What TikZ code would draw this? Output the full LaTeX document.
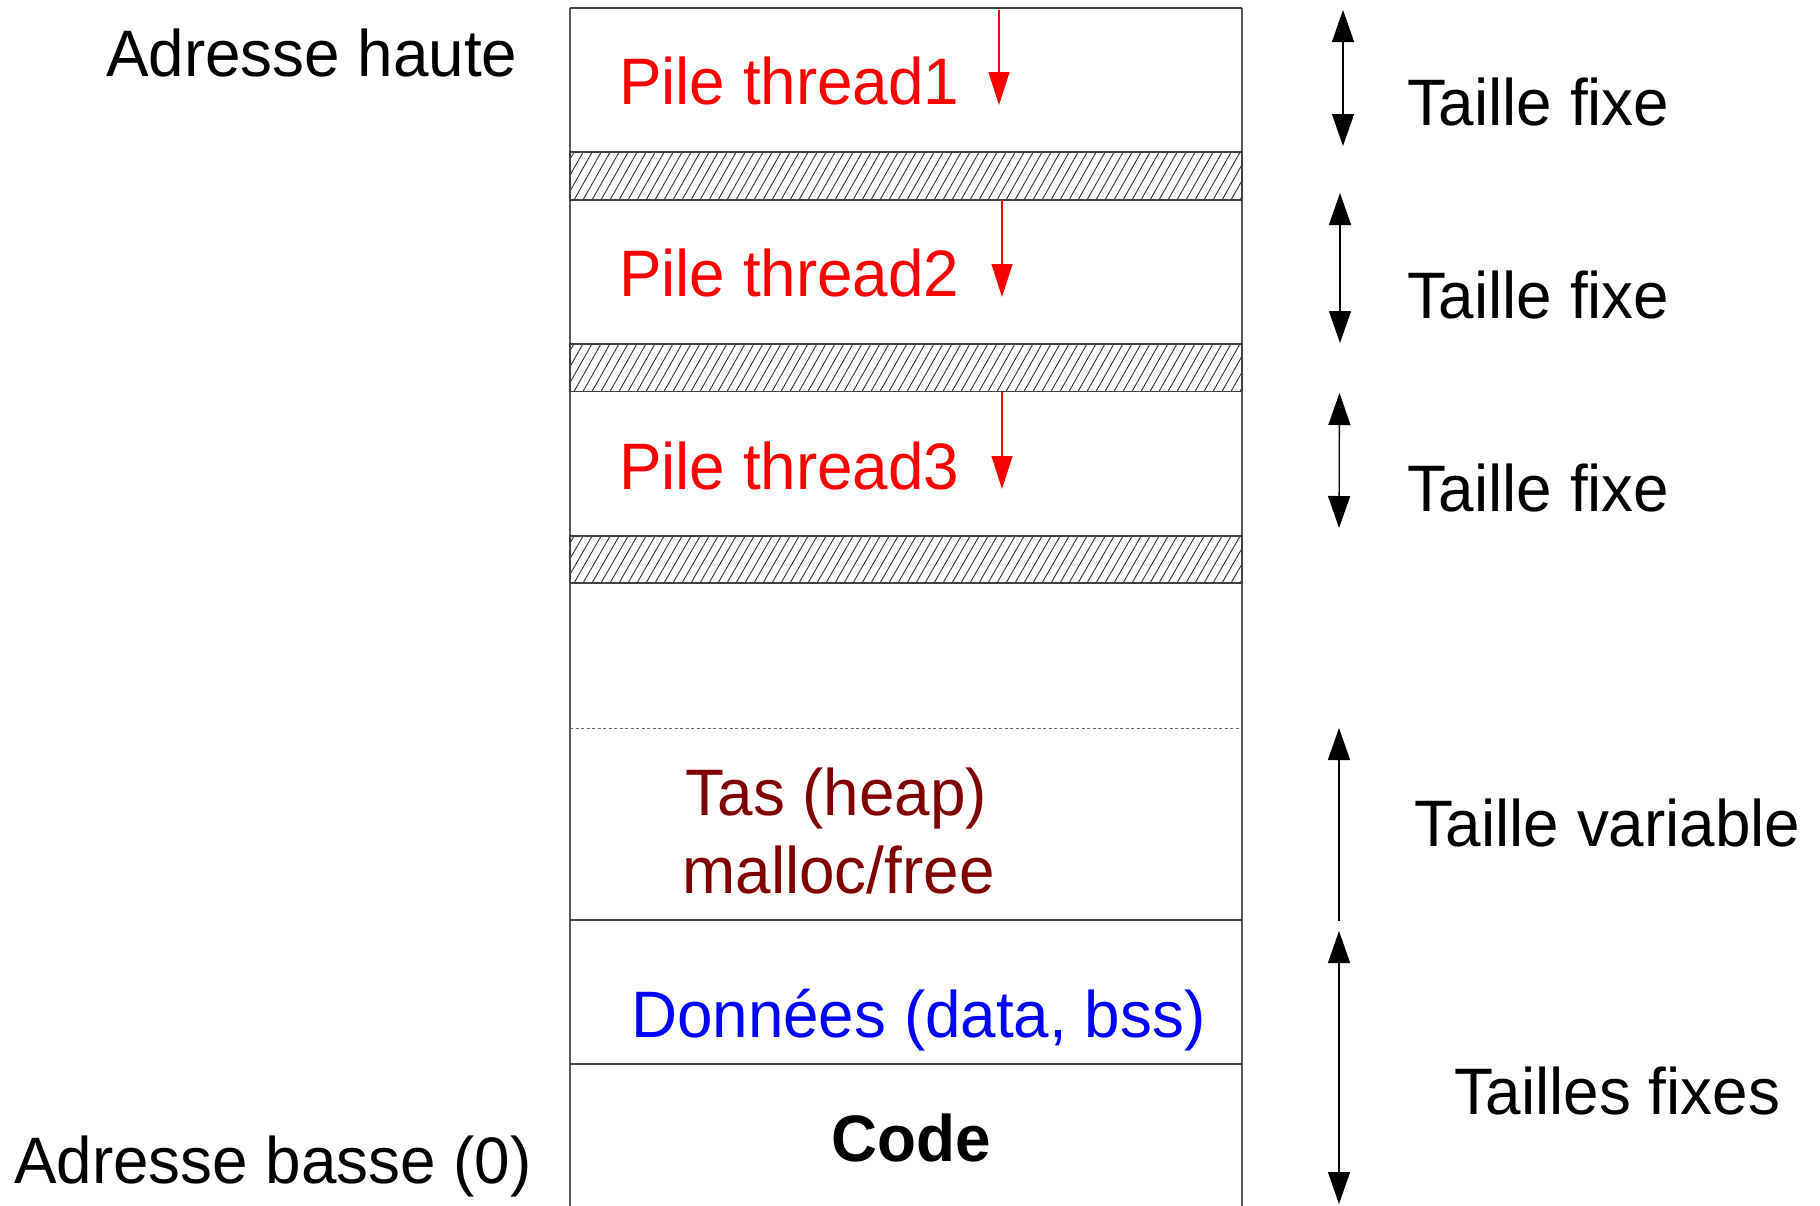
\documentclass[tikz,border=0pt]{standalone}
\usepackage{fontspec}
\setmainfont{Liberation Sans}
\usepackage{graphicx}
\usetikzlibrary{arrows.meta}
\definecolor{heapred}{RGB}{128,0,0}
\definecolor{datablue}{RGB}{0,0,255}
\definecolor{stackred}{RGB}{255,0,0}
\newcommand\vstretch[1]{\scalebox{1}[1.03]{#1}}
\begin{document}
\begin{tikzpicture}[x=1pt,y=-1pt,
  lbl/.style={inner sep=0pt, outer sep=0pt, anchor=base west, font=\fontsize{63.8}{70}\selectfont},
  clbl/.style={lbl, anchor=base},
  sepline/.style={line width=1.8pt, draw=black!75},
  sideline/.style={line width=1.2pt, draw=black!65},
  hatchline/.style={line width=0.9pt, draw=black!80},
  sizearrow/.style={line width=1.3pt, {Triangle[length=32pt,width=22pt]}-{Triangle[length=32pt,width=22pt]}},
  uparrow/.style={line width=1.3pt, -{Triangle[length=32pt,width=22pt]}},
  growarrow/.style={line width=1.1pt, draw=stackred, -{Triangle[length=33pt,width=21pt]}, stackred}]
\useasboundingbox (0,0) rectangle (1820,1205);
\fill[white] (0,0) rectangle (1820,1205);

% box sides
\coordinate (tl) at (570,8);
\coordinate (tr) at (1242,8);
\coordinate (bl) at (570,1210);
\coordinate (br) at (1242,1210);
\draw[sideline] (tl) -- (bl);
\draw[sideline] (tr) -- (br);
\draw[sepline] (tl) -- (tr);

% hatched guard bands
\foreach \t/\b in {152.3/200, 343.8/391.5, 536.2/583} {
  \begin{scope}
    \clip (570,\t) rectangle (1242,\b);
    \foreach \x in {520,529,...,1250} {
      \draw[hatchline] (\x,\b) -- ++(27,\t-\b);
    }
  \end{scope}
  \draw[sepline] (570,\t) rectangle (1242,\b);
}

% heap limit and other separators
\draw[line width=1pt, draw=black!60, dash pattern=on 3pt off 2.5pt] (570,728) -- (1242,728);
\draw[sepline] (570,920) -- (1242,920);
\draw[sepline] (570,1064) -- (1242,1064);

% left labels
\node[lbl] (haute) at (106,76) {\vstretch{Adresse haute}};
\node[lbl] (basse) at (14,1183) {\vstretch{Adresse basse (0)}};

% stacks
\node[lbl, text=stackred] (pile1) at (619,104) {\vstretch{Pile thread1}};
\node[lbl, text=stackred] (pile2) at (619,296.5) {\vstretch{Pile thread2}};
\node[lbl, text=stackred] (pile3) at (619,489) {\vstretch{Pile thread3}};

\coordinate (g1s) at (999,10);   \coordinate (g1e) at (999,105);
\coordinate (g2s) at (1002,200); \coordinate (g2e) at (1002,297);
\coordinate (g3s) at (1002,391.5); \coordinate (g3e) at (1002,489);
\draw[growarrow] (g1s) -- (g1e);
\draw[growarrow] (g2s) -- (g2e);
\draw[growarrow] (g3s) -- (g3e);

% heap, data, code
\node[clbl, text=heapred] (tas) at (836.5,815) {\vstretch{Tas (heap)}};
\node[clbl, text=heapred] (malloc) at (838.5,893) {\vstretch{malloc/free}};
\node[lbl, text=datablue] (donnees) at (631,1037) {\vstretch{Données (data, bss)}};
\node[clbl, font=\fontsize{63.8}{70}\selectfont\bfseries] (code) at (911,1161) {\vstretch{Code}};

% size arrows
\coordinate (a1t) at (1343,10);  \coordinate (a1b) at (1343,146);
\coordinate (a2t) at (1340,193); \coordinate (a2b) at (1340,343);
\coordinate (a3t) at (1339.5,393); \coordinate (a3b) at (1339,528);
\coordinate (a4t) at (1339,728); \coordinate (a4b) at (1339,921);
\coordinate (a5t) at (1339,931); \coordinate (a5b) at (1339,1204);
\draw[sizearrow] (a1t) -- (a1b);
\draw[sizearrow] (a2t) -- (a2b);
\draw[sizearrow] (a3t) -- (a3b);
\draw[uparrow] (a4b) -- (a4t);
\draw[sizearrow] (a5t) -- (a5b);

% size labels
\node[lbl] (tf1) at (1407,125) {\vstretch{Taille fixe}};
\node[lbl] (tf2) at (1407,318.5) {\vstretch{Taille fixe}};
\node[lbl] (tf3) at (1407,511.5) {\vstretch{Taille fixe}};
\node[lbl] (tv) at (1414,846) {\vstretch{Taille variable}};
\node[lbl] (tfs) at (1454,1114) {\vstretch{Tailles fixes}};
\end{tikzpicture}
\end{document}
